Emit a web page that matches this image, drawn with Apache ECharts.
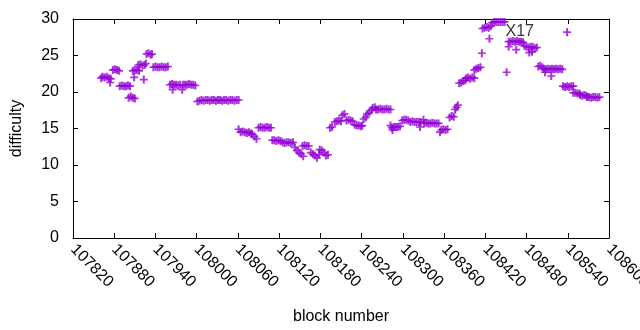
<!DOCTYPE html>
<html>
<head>
<meta charset="utf-8">
<script src="https://cdn.jsdelivr.net/npm/echarts@6/dist/echarts.min.js"></script>
<style>
html,body{margin:0;padding:0;background:#fff}
#chart{width:640px;height:330px}
</style>
</head>
<body>
<div id="chart"></div>
<script>
var blocks = [
    107861,107863,107866,107869,107872,107875,107874,107878,107881,107884,
    107887,107888,107891,107894,107897,107900,107903,107901,107904,107907,
    107910,107909,107907,107910,107913,107916,107915,107918,107921,107924,
    107923,107926,107927,107930,107933,107935,107937,107940,107943,107946,
    107949,107952,107955,107958,107961,107964,107967,107970,107973,107976,
    107965,107979,107980,107983,107986,107989,107992,107995,107998,108001,
    108004,108007,108010,108013,108016,108019,108022,108025,108028,108031,
    108034,108037,108040,108043,108046,108049,108052,108055,108058,108061,
    108061,108064,108067,108070,108073,108076,108079,108081,108084,108087,
    108090,108093,108096,108099,108102,108105,108108,108110,108113,108116,
    108119,108122,108125,108128,108131,108134,108137,108140,108143,108146,
    108149,108152,108155,108154,108157,108160,108163,108166,108169,108172,
    108175,108178,108179,108182,108185,108188,108191,108194,108197,108201,
    108204,108207,108210,108212,108215,108218,108221,108224,108227,108230,
    108233,108236,108239,108241,108243,108246,108248,108251,108254,108256,
    108259,108261,108264,108267,108270,108273,108276,108279,108282,108282,
    108284,108287,108290,108293,108296,108285,108299,108302,108305,108308,
    108311,108314,108317,108320,108323,108326,108325,108330,108331,108334,
    108337,108340,108343,108346,108349,108352,108354,108356,108359,108362,
    108365,108368,108371,108374,108376,108378,108380,108382,108385,108388,
    108391,108392,108395,108398,108401,108404,108404,108407,108410,108413,
    108415,108416,108419,108422,108425,108428,108426,108430,108433,108436,
    108439,108442,108445,108448,108451,108454,108454,108457,108460,108463,
    108466,108469,108472,108475,108465,108477,108480,108483,108486,108489,
    108492,108495,108484,108488,108497,108500,108503,108505,108508,108511,
    108514,108517,108520,108523,108526,108529,108532,108507,108516,108539,
    108533,108536,108539,108542,108545,108548,108548,108551,108554,108557,
    108558,108561,108564,108567,108568,108571,108574,108577,108580,108583,
    108586
];
var difficulty = [
    21.9,22.1,22.0,22.1,21.9,21.8,21.3,23.0,23.1,23.0,
    22.9,20.8,20.9,20.8,20.8,20.9,20.8,19.2,19.4,19.2,
    19.1,22.0,22.9,23.0,23.0,22.9,23.7,23.8,23.6,23.7,
    21.7,23.9,25.2,25.3,25.1,25.2,23.4,23.5,23.4,23.4,
    23.5,23.4,23.4,23.5,21.0,21.1,21.0,21.0,20.9,21.0,
    20.3,20.3,21.0,21.0,21.0,21.1,21.0,21.0,20.9,18.7,
    18.8,18.9,18.8,18.9,18.9,18.8,18.9,18.9,18.8,18.9,
    18.9,18.8,18.9,18.9,18.8,18.9,18.9,18.8,18.9,18.9,
    14.9,14.5,14.6,14.5,14.4,14.5,14.3,14.2,13.9,13.6,
    15.1,15.2,15.1,15.1,15.2,15.1,15.1,13.4,13.4,13.3,
    13.4,13.3,13.1,13.0,13.1,13.1,13.0,13.1,12.4,12.0,
    11.7,11.5,11.2,12.6,12.7,12.6,12.6,11.7,11.5,11.3,
    11.0,11.4,12.1,12.0,11.7,11.3,11.4,15.1,15.2,15.9,
    16.0,16.1,16.0,16.8,17.0,16.1,16.2,16.1,16.0,15.5,
    15.4,15.4,15.3,15.4,16.3,16.5,17.0,17.2,17.5,17.8,
    17.9,17.6,17.6,17.7,17.6,17.6,17.7,17.6,17.6,15.4,
    15.1,15.2,15.2,15.2,15.3,14.8,16.1,16.2,16.2,16.1,
    15.9,16.0,15.9,15.9,15.9,15.9,15.2,16.2,15.7,15.8,
    15.7,15.7,15.8,15.7,15.7,15.7,14.5,14.8,14.9,14.8,
    14.9,16.5,16.7,16.6,17.6,17.9,18.2,21.2,21.3,21.5,
    21.6,21.9,22.0,21.8,22.0,21.9,23.0,23.2,23.3,23.4,
    25.3,28.7,28.8,28.9,28.8,29.0,27.3,29.5,29.6,29.6,
    29.6,29.6,29.6,29.6,22.7,26.2,26.9,26.9,27.0,26.9,
    27.0,26.9,26.9,26.8,25.8,26.3,26.2,26.1,26.2,26.2,
    26.0,26.1,25.4,25.5,23.5,23.6,23.4,23.2,23.1,23.2,
    23.1,23.2,23.1,23.2,23.1,23.2,23.1,22.7,22.2,28.2,
    20.8,20.7,20.8,20.7,20.8,20.8,19.9,19.9,19.8,19.8,
    19.6,19.5,19.6,19.5,19.3,19.3,19.2,19.3,19.3,19.2,
    19.3
];

// axis ranges / ticks
var xMin = 107820, xMax = 108600, xStep = 60;
var yMin = 0, yMax = 30, yStep = 5;

// text label on the plot
var noteText = 'X17', noteBlock = 108448, noteValue = 28.3;

var font = "'Liberation Sans', Arial, sans-serif";
// gnuplot style "+" marker
var plus = 'path://M0,3.2h8v1.6h-8z M3,0h2v8h-2z';

function axisBase(){
    return {
        axisLine: {onZero: false, lineStyle: {color: '#000', width: 1}},
        axisTick: {inside: true, length: 5, lineStyle: {color: '#000'}},
        splitLine: {show: false}
    };
}

var points = blocks.map(function(b, i){ return [b, difficulty[i]]; });

var xBottom = axisBase();
xBottom.type = 'value';
xBottom.position = 'bottom';
xBottom.min = xMin; xBottom.max = xMax; xBottom.interval = xStep;
xBottom.axisLabel = {rotate: -45, color: '#000', fontSize: 16, fontFamily: font, margin: 9,
    formatter: function(v){ return String(v); }};
xBottom.name = 'block number';
xBottom.nameLocation = 'middle';
xBottom.nameGap = 71;
xBottom.nameTextStyle = {color: '#000', fontSize: 16, fontFamily: font};

var xTop = axisBase();
xTop.type = 'value';
xTop.position = 'top';
xTop.min = xMin; xTop.max = xMax; xTop.interval = xStep;
xTop.axisLabel = {show: false};

var yLeft = axisBase();
yLeft.type = 'value';
yLeft.position = 'left';
yLeft.min = yMin; yLeft.max = yMax; yLeft.interval = yStep;
yLeft.axisLabel = {color: '#000', fontSize: 16, fontFamily: font, margin: 14};
yLeft.name = 'difficulty';
yLeft.nameLocation = 'middle';
yLeft.nameGap = 48;
yLeft.nameTextStyle = {color: '#000', fontSize: 16, fontFamily: font};

var yRight = axisBase();
yRight.type = 'value';
yRight.position = 'right';
yRight.min = yMin; yRight.max = yMax; yRight.interval = yStep;
yRight.axisLabel = {show: false};

var chart = echarts.init(document.getElementById('chart'));
chart.setOption({
    animation: false,
    grid: {left: 73, right: 31, top: 19, bottom: 92, containLabel: false, outerBoundsMode: 'none'},
    xAxis: [xBottom, xTop],
    yAxis: [yLeft, yRight],
    series: [
        {
            type: 'scatter',
            data: points,
            symbol: plus,
            symbolSize: 8,
            itemStyle: {color: '#9400d3'}
        },
        {
            type: 'scatter',
            data: [[noteBlock, noteValue]],
            symbolSize: 2,
            itemStyle: {color: 'rgba(0,0,0,0)'},
            label: {show: true, position: 'right', distance: 0, formatter: noteText,
                color: '#000', fontSize: 16, fontFamily: font}
        }
    ]
});
</script>
</body>
</html>
